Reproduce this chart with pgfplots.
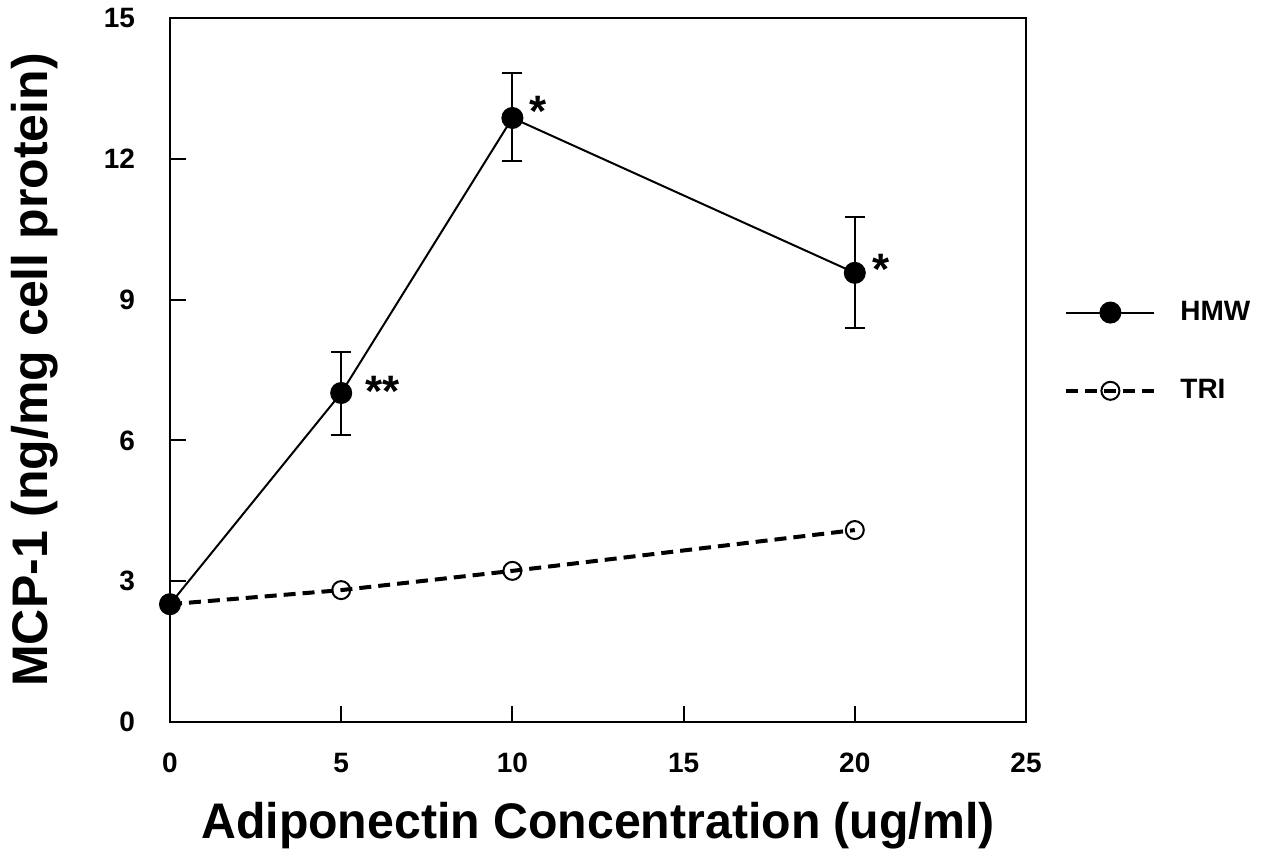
\documentclass[border=0pt]{standalone}
\usepackage{pgfplots}
\pgfplotsset{compat=1.18}
\usepackage{fontspec}
\setmainfont{Liberation Sans}
\begin{document}
\begin{tikzpicture}
\begin{axis}[
    name=ax,
    scale only axis,
    width=428pt,
    height=352pt,
    xmin=0, xmax=25,
    ymin=0, ymax=15,
    xtick={0,5,10,15,20,25},
    ytick={0,3,6,9,12,15},
    tick align=inside,
    tick pos=left,
    major tick length=8pt,
    axis line style={line width=1pt},
    every tick/.style={black, line width=1pt},
    /pgf/number format/assume math mode=true,
    tick label style={font=\fontsize{14}{16}\selectfont\bfseries},
    xticklabel style={yshift=-12pt},
    yticklabel style={xshift=-14pt},
    xlabel={\scalebox{0.965}[1]{Adiponectin Concentration (ug/ml)}},
    ylabel={MCP-1 (ng/mg cell protein)},
    xlabel style={font=\fontsize{25}{28}\selectfont\bfseries, yshift=-8pt},
    ylabel style={font=\fontsize{25}{28}\selectfont\bfseries, yshift=16pt},
    legend style={draw=none, inner sep=0pt, at={(1,0.526)}, anchor=west, xshift=19pt,
        font=\fontsize{14}{16}\selectfont\bfseries,
        row sep=24pt, cells={anchor=west},
        /tikz/every odd column/.append style={column sep=10pt}},
    legend image code/.code={
        \draw[#1, mark repeat=2, mark phase=2] plot coordinates {(0pt,0pt) (22pt,0pt) (44pt,0pt)};
    },
]
\addplot[black, line width=1pt, mark=*, mark size=5pt, mark options={solid, fill=black},
    error bars/.cd, y dir=both, y explicit, error bar style={line width=1pt, solid},
    error mark options={rotate=90, mark size=5pt, line width=1pt}]
  table [x=x, y=y, y error plus=ep, y error minus=em] {
x y ep em
0 2.51 0 0
5 7.01 0.88 0.89
10 12.87 0.96 0.92
20 9.57 1.19 1.17
};
\addlegendentry{HMW}
\addplot[black, line width=2pt, dash pattern=on 6pt off 3.5pt, mark=o, mark size=4.5pt,
    mark options={solid, line width=1pt}]
  table [x=x, y=y] {
x y
0 2.51
5 2.81
10 3.22
20 4.09
};
\addlegendentry{TRI}
\node[font=\fontsize{22}{24}\selectfont\bfseries, anchor=west] at (axis cs:5.5,7.05) {**};
\node[font=\fontsize{22}{24}\selectfont\bfseries, anchor=west] at (axis cs:10.3,13.0) {*};
\node[font=\fontsize{22}{24}\selectfont\bfseries, anchor=west] at (axis cs:20.3,9.65) {*};
\end{axis}
\pgfresetboundingbox
\path ([xshift=-85pt,yshift=-67.5pt]ax.south west) rectangle ([xshift=123pt,yshift=9pt]ax.north east);
\end{tikzpicture}
\end{document}
